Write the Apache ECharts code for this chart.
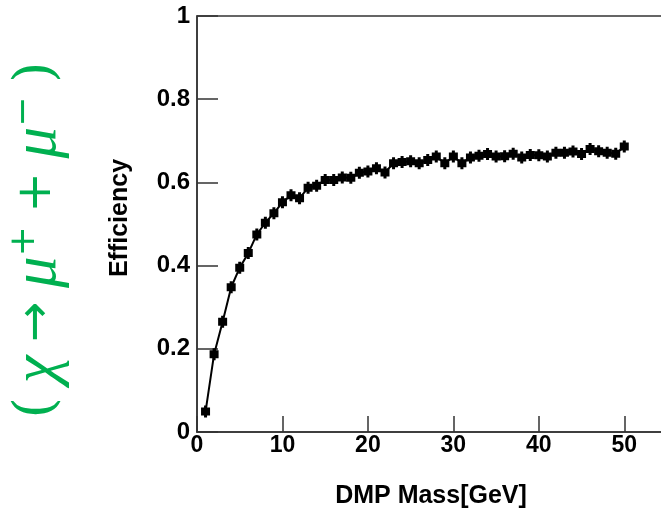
<!DOCTYPE html>
<html>
<head>
<meta charset="utf-8">
<script src="https://cdn.jsdelivr.net/npm/echarts@6/dist/echarts.min.js"></script>
<style>html,body{margin:0;padding:0;background:#fff;overflow:hidden;width:661px;height:509px;}#c{width:680px;height:509px;}</style>
</head>
<body>
<div id="c"></div>
<script>
var masses = [1,2,3,4,5,6,7,8,9,10,11,12,13,14,15,16,17,18,19,20,21,22,23,24,25,26,27,28,29,30,31,32,33,34,35,36,37,38,39,40,41,42,43,44,45,46,47,48,49,50];
var efficiency = [0.049,0.187,0.265,0.348,0.395,0.430,0.475,0.503,0.526,0.552,0.569,0.562,0.587,0.592,0.606,0.606,0.612,0.611,0.623,0.626,0.634,0.624,0.646,0.649,0.651,0.646,0.654,0.662,0.646,0.662,0.646,0.660,0.664,0.668,0.662,0.663,0.669,0.660,0.666,0.665,0.662,0.671,0.671,0.674,0.668,0.680,0.675,0.671,0.669,0.686];
var xTicks = [0,10,20,30,40,50];
var yTicks = [0,0.2,0.4,0.6,0.8,1];
var xTitle = 'DMP Mass[GeV]';
var yTitle = 'Efficiency';

var chart = echarts.init(document.getElementById('c'), null, {renderer:'canvas'});
var pts = masses.map(function(m,i){return [m, efficiency[i]];});
var lab = {fontFamily:'Liberation Sans, Arial, sans-serif', fontWeight:'bold', color:'#000'};
chart.setOption({
  animation:false,
  backgroundColor:'#fff',
  grid:{left:197, top:16, width:470, height:416, show:true, borderColor:'#333', borderWidth:1.5, backgroundColor:'transparent'},
  xAxis:{type:'value', min:0, max:55, interval:10,
    axisLine:{show:true, lineStyle:{color:'#333', width:1.5}},
    axisTick:{show:true, inside:true, length:16, lineStyle:{color:'#333', width:1.5}},
    splitLine:{show:false},
    axisLabel:Object.assign({fontSize:23, margin:2, formatter:function(v){return xTicks.indexOf(v)>=0?String(v):'';}}, lab)
  },
  yAxis:{type:'value', min:0, max:1, interval:0.2,
    axisLine:{show:true, lineStyle:{color:'#333', width:1.5}},
    axisTick:{show:true, inside:true, length:21, lineStyle:{color:'#333', width:1.5}},
    splitLine:{show:false},
    axisLabel:Object.assign({fontSize:24, margin:7, formatter:function(v){
      for (var k=0;k<yTicks.length;k++){ if (Math.abs(yTicks[k]-v)<1e-9) return (v===0||v===1)?String(yTicks[k]):yTicks[k].toFixed(1);} return '';}}, lab)
  },
  series:[{type:'line', data:pts, color:'#000',
    lineStyle:{color:'#000', width:2},
    symbol:'path://M3,0 H6 V2 H9 V10 H6 V12 H3 V10 H0 V2 H3 Z', symbolSize:[9,12],
    itemStyle:{color:'#000'}, showSymbol:true
  }],
  graphic:[
    {type:'text', x:120, y:218, rotation:Math.PI/2, style:{text:yTitle, font:'bold 25px "Liberation Sans", Arial, sans-serif', fill:'#000', align:'center', verticalAlign:'middle'}},
    {type:'text', x:431, y:496, style:{text:xTitle, font:'bold 25px "Liberation Sans", Arial, sans-serif', fill:'#000', align:'center', verticalAlign:'middle'}},
    {type:'text', x:38, y:240, rotation:Math.PI/2, style:{
      text:'{p|(} {g|χ} {a|→} {g|μ}{s|+} {a|+} {g|μ}{s|−} {p|)}',
      fill:'#00b050', align:'center', verticalAlign:'middle',
      rich:{
        p:{fontFamily:'"DejaVu Serif", serif', fontSize:55, color:'#00b050'},
        g:{fontFamily:'"Liberation Serif", serif', fontStyle:'italic', fontSize:63, color:'#00b050'},
        a:{fontFamily:'"DejaVu Sans", sans-serif', fontSize:48, color:'#00b050'},
        s:{fontFamily:'"DejaVu Sans", sans-serif', fontSize:36, color:'#00b050', verticalAlign:'top', padding:[0,0,23,0]}
      },
      font:'55px "Liberation Serif", serif'
    }}
  ]
});
</script>
</body>
</html>
